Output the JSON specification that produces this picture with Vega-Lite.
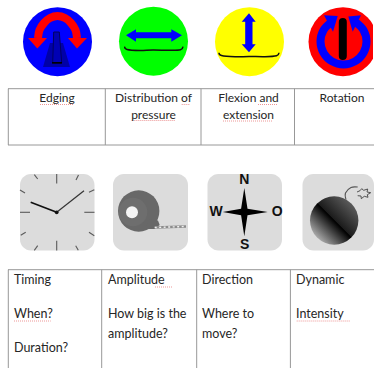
{
"$schema":"https://vega.github.io/schema/vega-lite/v6.json",
"width":374,"height":369,"padding":0,
"autosize":{"type":"fit","contains":"padding"},
"background":"white",
"view":{"stroke":null},
"datasets":{
"discs":[{"id":"Edging","x":57.5,"y":41.7,"c":"#0000ff"},{"id":"Distribution of pressure","x":153.5,"y":41.2,"c":"#00ff00"},{"id":"Flexion and extension","x":249.5,"y":41.7,"c":"#ffff00"},{"id":"Rotation","x":343,"y":41.7,"c":"#ff0000"}],
"tiles":[{"id":"Timing","x":20,"x2":94.5,"y":174,"y2":250.5},{"id":"Amplitude","x":113,"x2":188,"y":174,"y2":250.5},{"id":"Direction","x":207.5,"x2":282,"y":174,"y2":250.5},{"id":"Dynamic","x":302.5,"x2":374,"y":174,"y2":250.5}],
"grid":[
{"x":8,"x2":374,"y":88.7,"y2":88.7},{"x":8,"x2":374,"y":145,"y2":145},
{"x":8.3,"x2":8.3,"y":88.7,"y2":145},{"x":105.3,"x2":105.3,"y":88.7,"y2":145},{"x":201,"x2":201,"y":88.7,"y2":145},{"x":294.5,"x2":294.5,"y":88.7,"y2":145},
{"x":8,"x2":374,"y":269.7,"y2":269.7},
{"x":8.3,"x2":8.3,"y":269.7,"y2":368},{"x":101.7,"x2":101.7,"y":269.7,"y2":368},{"x":196.7,"x2":196.7,"y":269.7,"y2":368},{"x":290.4,"x2":290.4,"y":269.7,"y2":368}],
"ticks":[
{"x":56.7,"x2":56.7,"y":174,"y2":183.5},{"x":56.7,"x2":56.7,"y":240.7,"y2":250.5},{"x":84.3,"x2":94.5,"y":212.3,"y2":212.3},{"x":20,"x2":30,"y":212.3,"y2":212.3},
{"x":76,"x2":78.5,"y":180,"y2":175},{"x":89,"x2":94.3,"y":192.3,"y2":189.7},{"x":89,"x2":94.3,"y":232.3,"y2":235.7},{"x":75.7,"x2":78.3,"y":245.7,"y2":250.3},
{"x":37.7,"x2":34.3,"y":245.7,"y2":250.3},{"x":25.7,"x2":20.7,"y":232.3,"y2":235.3},{"x":25,"x2":20,"y":193,"y2":190},{"x":37.7,"x2":34.3,"y":179,"y2":174.7}],
"bluePoly":[
{"id":"h1","i":0,"x":126,"y":35.3},{"id":"h1","i":1,"x":136,"y":29.3},{"id":"h1","i":2,"x":136,"y":32.3},{"id":"h1","i":3,"x":171.3,"y":32.3},{"id":"h1","i":4,"x":171.3,"y":29.3},{"id":"h1","i":5,"x":182,"y":35.3},{"id":"h1","i":6,"x":171.3,"y":41.7},{"id":"h1","i":7,"x":171.3,"y":38.3},{"id":"h1","i":8,"x":136,"y":38.3},{"id":"h1","i":9,"x":136,"y":41.7},
{"id":"h2","i":0,"x":249,"y":13.3},{"id":"h2","i":1,"x":255.7,"y":21.7},{"id":"h2","i":2,"x":252.5,"y":21.7},{"id":"h2","i":3,"x":252.5,"y":44.3},{"id":"h2","i":4,"x":255.7,"y":44.3},{"id":"h2","i":5,"x":249,"y":52.3},{"id":"h2","i":6,"x":241.7,"y":44.3},{"id":"h2","i":7,"x":245.2,"y":44.3},{"id":"h2","i":8,"x":245.2,"y":21.7},{"id":"h2","i":9,"x":241.7,"y":21.7},
{"id":"a1","i":0,"x":324,"y":15.3},{"id":"a1","i":1,"x":337.7,"y":16},{"id":"a1","i":2,"x":333,"y":31.7},
{"id":"a2","i":0,"x":361,"y":15.3},{"id":"a2","i":1,"x":348.3,"y":16.5},{"id":"a2","i":2,"x":352.7,"y":31.7}],
"ring":[{"i":0,"x":332,"y":21.6},{"i":1,"x":323.6,"y":30},{"i":2,"x":320.5,"y":41.5},{"i":3,"x":323.6,"y":53},{"i":4,"x":332,"y":61.4},{"i":5,"x":343.5,"y":64.5},{"i":6,"x":355,"y":61.4},{"i":7,"x":363.4,"y":53},{"i":8,"x":366.5,"y":41.5},{"i":9,"x":363.4,"y":30},{"i":10,"x":355,"y":21.6}],
"arch":[{"i":0,"x":38,"y":38},{"i":1,"x":39.5,"y":30},{"i":2,"x":44,"y":23},{"i":3,"x":50,"y":18},{"i":4,"x":57.5,"y":16},{"i":5,"x":65,"y":18},{"i":6,"x":71,"y":23},{"i":7,"x":75.5,"y":30},{"i":8,"x":77,"y":38}],
"redPoly":[
{"id":"l","i":0,"x":28,"y":38},{"id":"l","i":1,"x":47,"y":38},{"id":"l","i":2,"x":37.3,"y":48.5},
{"id":"r","i":0,"x":68,"y":38},{"id":"r","i":1,"x":87,"y":38},{"id":"r","i":2,"x":77,"y":48.5}],
"skiShadow":[{"i":0,"x":50,"y":43},{"i":1,"x":63,"y":43},{"i":2,"x":70,"y":67},{"i":3,"x":43,"y":67}],
"ski":[{"i":0,"x":53.7,"y":32},{"i":1,"x":59.3,"y":32},{"i":2,"x":61.7,"y":63},{"i":3,"x":52.7,"y":63},{"i":4,"x":53.7,"y":32}],
"skiEdge":[{"id":"base","i":0,"x":52,"y":62.8},{"id":"base","i":1,"x":62,"y":62.8}],
"curves":[
{"id":"c1","i":0,"x":124.7,"y":46.7},{"id":"c1","i":1,"x":127,"y":49.5},{"id":"c1","i":2,"x":140,"y":50.5},{"id":"c1","i":3,"x":153,"y":50},{"id":"c1","i":4,"x":170,"y":50.3},{"id":"c1","i":5,"x":180.5,"y":49.8},{"id":"c1","i":6,"x":183,"y":46.7},
{"id":"c2","i":0,"x":219,"y":52.7},{"id":"c2","i":1,"x":221.5,"y":55.5},{"id":"c2","i":2,"x":235,"y":56.7},{"id":"c2","i":3,"x":249,"y":56.5},{"id":"c2","i":4,"x":265,"y":56.7},{"id":"c2","i":5,"x":276.5,"y":55.7},{"id":"c2","i":6,"x":279,"y":52.7}],
"bar":[{"i":0,"x":342.8,"y":22},{"i":1,"x":342.8,"y":56}],
"minute":[{"i":0,"x":56.7,"y":212.3},{"i":1,"x":84,"y":190.7}],
"hour":[{"i":0,"x":56.7,"y":212.3},{"i":1,"x":30.7,"y":202.3}],
"star":[{"i":0,"x":244.3,"y":188},{"i":1,"x":247.5,"y":208.8},{"i":2,"x":267.7,"y":212},{"i":3,"x":247.5,"y":215.2},{"i":4,"x":244.3,"y":236.3},{"i":5,"x":241.1,"y":215.2},{"i":6,"x":222.7,"y":212},{"i":7,"x":241.1,"y":208.8}],
"tapeEnd":[{"i":0,"x":148,"y":219},{"i":1,"x":158,"y":220.5},{"i":2,"x":159.7,"y":225},{"i":3,"x":154.7,"y":229},{"i":4,"x":146,"y":229}],
"strip":[{"i":0,"x":154.7,"y":227.5},{"i":1,"x":186,"y":226.5}],
"fuse":[{"i":0,"x":346,"y":199.7},{"i":1,"x":345.5,"y":193},{"i":2,"x":351,"y":187.5},{"i":3,"x":357.7,"y":187}],
"spark":[{"i":0,"x":357,"y":192},{"i":1,"x":360,"y":190.7},{"i":2,"x":361.7,"y":188.7},{"i":3,"x":363.7,"y":190.3},{"i":4,"x":367.7,"y":189},{"i":5,"x":367,"y":192},{"i":6,"x":370.7,"y":192.7},{"i":7,"x":367.3,"y":194.7},{"i":8,"x":368,"y":197.3},{"i":9,"x":364.3,"y":196.3},{"i":10,"x":361.3,"y":198.7},{"i":11,"x":361,"y":196},{"i":12,"x":357.7,"y":195.7}],
"labelsCentre":[{"t":"Edging","x":57,"y":97.5},{"t":"Distribution of","x":153.5,"y":97.5},{"t":"pressure","x":153.5,"y":114.5},{"t":"Flexion and","x":248.5,"y":97.5},{"t":"extension","x":248.5,"y":114.5},{"t":"Rotation","x":342,"y":97.5}],
"labelsLeft":[{"t":"Timing","x":14,"y":280},{"t":"When?","x":14,"y":314},{"t":"Duration?","x":14,"y":348},{"t":"Amplitude","x":108,"y":280},{"t":"How big is the","x":108,"y":314},{"t":"amplitude?","x":108,"y":334},{"t":"Direction","x":202,"y":280},{"t":"Where to","x":202,"y":314},{"t":"move?","x":202,"y":334},{"t":"Dynamic","x":296,"y":280},{"t":"Intensity","x":296,"y":314}],
"compass":[{"t":"N","x":244.3,"y":179.7},{"t":"W","x":216,"y":212.3},{"t":"O","x":277.3,"y":212.3},{"t":"S","x":244.7,"y":245.3}],
"spell":[{"x":40,"x2":73,"y":104.5},{"x":181.7,"x2":190,"y":104.5},{"x":131.7,"x2":175,"y":120.5},{"x":258,"x2":277,"y":104.5},{"x":223,"x2":273,"y":121},{"x":155,"x2":172,"y":287},{"x":14,"x2":50.7,"y":321},{"x":296.7,"x2":350,"y":321}]
},
"encoding":{
"x":{"field":"x","type":"quantitative","scale":{"domain":[0,374],"range":[0,374]},"axis":null},
"y":{"field":"y","type":"quantitative","scale":{"domain":[0,369],"range":[0,369]},"axis":null}
},
"layer":[
{"data":{"name":"discs"},"mark":{"type":"point","filled":true,"opacity":1,"size":4761,"shape":"circle","clip":true},"encoding":{"fill":{"field":"c","type":"nominal","scale":null}}},
{"data":{"name":"tiles"},"mark":{"type":"rect","fill":"#dcdcdc","cornerRadius":11},"encoding":{"x2":{"field":"x2"},"y2":{"field":"y2"}}},
{"data":{"name":"grid"},"mark":{"type":"rule","stroke":"#989898","strokeWidth":1},"encoding":{"x2":{"field":"x2"},"y2":{"field":"y2"}}},
{"data":{"name":"skiShadow"},"mark":{"type":"line","fill":"#0000a8","strokeWidth":0},"encoding":{"order":{"field":"i"}}},
{"data":{"name":"ski"},"mark":{"type":"line","fill":"#0000b4","stroke":"#000060","strokeWidth":1},"encoding":{"order":{"field":"i"}}},
{"data":{"name":"skiEdge"},"mark":{"type":"line","stroke":"#000000","strokeWidth":1.6},"encoding":{"order":{"field":"i"}}},
{"data":{"name":"arch"},"mark":{"type":"line","stroke":"#ff0000","strokeWidth":8,"interpolate":"cardinal"},"encoding":{"order":{"field":"i"}}},
{"data":{"name":"redPoly"},"mark":{"type":"line","fill":"#ff0000","strokeWidth":0},"encoding":{"order":{"field":"i"},"detail":{"field":"id"}}},
{"data":{"name":"ring"},"mark":{"type":"line","stroke":"#0000ff","strokeWidth":8,"interpolate":"cardinal","clip":true},"encoding":{"order":{"field":"i"}}},
{"data":{"name":"bluePoly"},"mark":{"type":"line","fill":"#0000ff","strokeWidth":0},"encoding":{"order":{"field":"i"},"detail":{"field":"id"}}},
{"data":{"name":"bar"},"mark":{"type":"line","stroke":"#000000","strokeWidth":8,"strokeCap":"round"},"encoding":{"order":{"field":"i"}}},
{"data":{"name":"curves"},"mark":{"type":"line","stroke":"#111111","strokeWidth":1.5,"interpolate":"cardinal"},"encoding":{"order":{"field":"i"},"detail":{"field":"id"}}},
{"data":{"name":"ticks"},"mark":{"type":"rule","stroke":"#5a5a5a","strokeWidth":1.1},"encoding":{"x2":{"field":"x2"},"y2":{"field":"y2"}}},
{"data":{"name":"minute"},"mark":{"type":"line","stroke":"#333333","strokeWidth":1.2},"encoding":{"order":{"field":"i"}}},
{"data":{"name":"hour"},"mark":{"type":"line","stroke":"#111111","strokeWidth":1.7},"encoding":{"order":{"field":"i"}}},
{"data":{"values":[{"id":"hub","x":56.7,"y":212.3}]},"mark":{"type":"point","filled":true,"fill":"#111111","opacity":1,"size":14,"shape":"circle"}},
{"data":{"values":[{"id":"roll","x":138.7,"y":211}]},"mark":{"type":"point","filled":true,"fill":"#686868","opacity":1,"size":1714,"shape":"circle"}},
{"data":{"name":"tapeEnd"},"mark":{"type":"line","fill":"#686868","strokeWidth":0},"encoding":{"order":{"field":"i"}}},
{"data":{"values":[{"id":"side","x":133,"y":212}]},"mark":{"type":"point","filled":true,"fill":"#6e6e6e","opacity":1,"size":818,"shape":"circle"}},
{"data":{"values":[{"id":"hole","x":132,"y":212.3}]},"mark":{"type":"point","filled":true,"fill":"#f4f4f4","opacity":1,"size":144,"shape":"circle"}},
{"data":{"name":"strip"},"mark":{"type":"line","stroke":"#8c8c8c","strokeWidth":2.6},"encoding":{"order":{"field":"i"}}},
{"data":{"name":"strip"},"mark":{"type":"line","stroke":"#f0f0f0","strokeWidth":1.4,"strokeDash":[2,2.5]},"encoding":{"order":{"field":"i"}}},
{"data":{"name":"star"},"mark":{"type":"line","fill":"#000000","strokeWidth":0},"encoding":{"order":{"field":"i"}}},
{"data":{"name":"compass"},"mark":{"type":"text","font":"Liberation Sans","fontWeight":"bold","fontSize":14,"fill":"#111111","align":"center","baseline":"middle"},"encoding":{"text":{"field":"t"}}},
{"data":{"name":"fuse"},"mark":{"type":"line","stroke":"#555555","strokeWidth":1.1,"interpolate":"cardinal"},"encoding":{"order":{"field":"i"}}},
{"data":{"name":"spark"},"mark":{"type":"line","fill":"#dcdcdc","stroke":"#444444","strokeWidth":0.9},"encoding":{"order":{"field":"i"}}},
{"data":{"values":[{"id":"bomb","x":334.2,"y":220.5}]},"mark":{"type":"point","filled":true,"opacity":1,"size":2343,"shape":"circle","fill":{"gradient":"linear","x1":0.15,"y1":0.85,"x2":0.85,"y2":0.15,"stops":[{"offset":0,"color":"#a8a8a8"},{"offset":0.5,"color":"#000000"},{"offset":0.52,"color":"#1c1c1c"},{"offset":1,"color":"#5a5a5a"}]}}},
{"data":{"name":"spell"},"mark":{"type":"rule","stroke":"#e05050","strokeWidth":0.8,"strokeDash":[1,1],"opacity":0.75},"encoding":{"x2":{"field":"x2"}}},
{"data":{"name":"labelsCentre"},"mark":{"type":"text","font":"Lato","fontSize":12,"fill":"#262626","align":"center","baseline":"middle"},"encoding":{"text":{"field":"t"}}},
{"data":{"name":"labelsLeft"},"mark":{"type":"text","font":"Lato","fontSize":12.5,"fill":"#262626","align":"left","baseline":"middle"},"encoding":{"text":{"field":"t"}}}
]
}
